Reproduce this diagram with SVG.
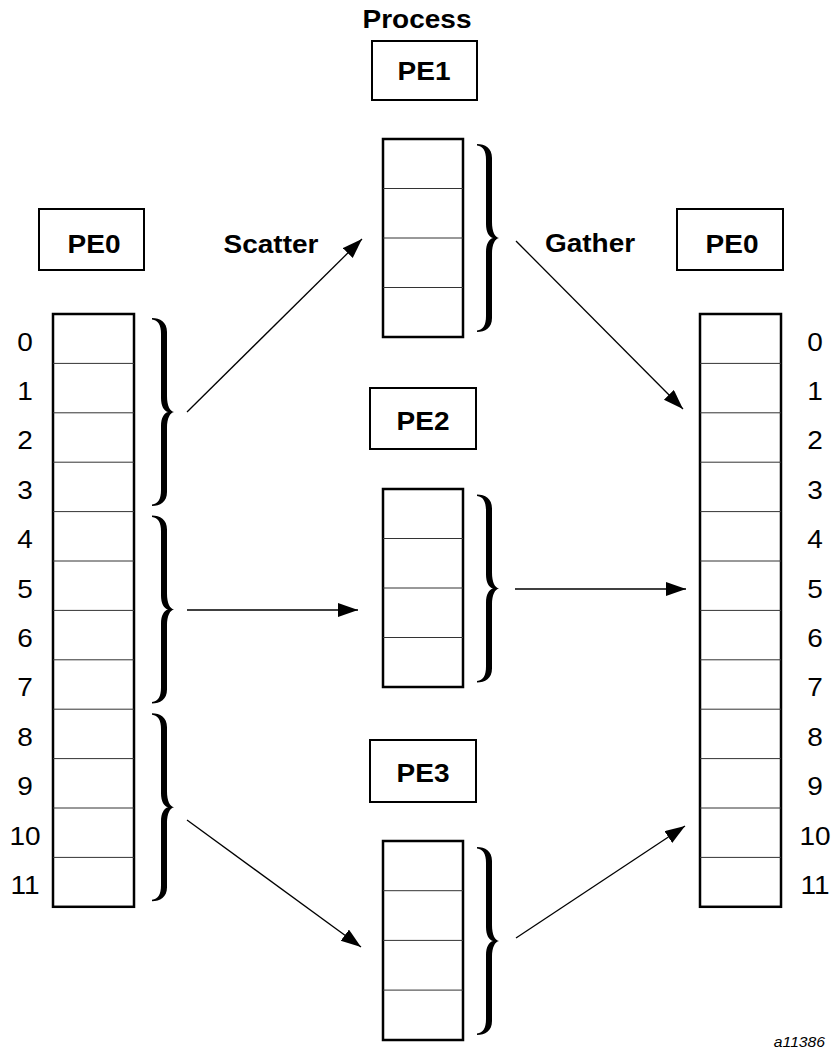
<svg xmlns="http://www.w3.org/2000/svg" width="838" height="1053" viewBox="0 0 838 1053">
<style>
.box{fill:#fff;stroke:#000;stroke-width:2}
.arr{fill:#fff;stroke:#000;stroke-width:2.5}
.row{stroke:#333;stroke-width:1}
.lbl{font-family:"Liberation Sans",Arial,sans-serif;font-size:25px;font-weight:bold;fill:#000;text-anchor:middle}
.num{font-family:"Liberation Sans",Arial,sans-serif;font-size:25px;fill:#000;text-anchor:middle}
.cap{font-family:"Liberation Sans",Arial,sans-serif;font-size:14px;font-style:italic;fill:#000;text-anchor:end}
.con{stroke:#000;stroke-width:1.3;fill:none}
</style>
<defs>
<path id="brace" d="M0,0 C8,0 15,4 15,14 L15,78 C15,88 18,93 22,94 C18,95 15,100 15,110 L15,174 C15,184 8,188 0,188 L0,186.5 C6,186 9,181 9,172 L9,108 C9,100 12,95 16,94 C12,93 9,88 9,80 L9,16 C9,7 6,2 0,1.5 Z" fill="#000"/>
<marker id="ah" markerUnits="userSpaceOnUse" markerWidth="22" markerHeight="16" refX="20" refY="7" orient="auto">
<path d="M0,0 L20,7 L0,14 Z" fill="#000"/>
</marker>
</defs>
<rect width="838" height="1053" fill="#fff"/>

<g id="title">
<text class="lbl" transform="translate(417,28) scale(1.12,1)">Process</text>
</g>

<g id="pe0-left">
<rect class="box" x="39" y="209" width="105" height="61"/>
<text class="lbl" transform="translate(94,253) scale(1.12,1)">PE0</text>
</g>

<g id="pe0-left-array">
<rect class="arr" x="53" y="314" width="81" height="592.8"/>
<g class="row">
<line x1="53" y1="363.4" x2="134" y2="363.4"/>
<line x1="53" y1="412.8" x2="134" y2="412.8"/>
<line x1="53" y1="462.2" x2="134" y2="462.2"/>
<line x1="53" y1="511.6" x2="134" y2="511.6"/>
<line x1="53" y1="561" x2="134" y2="561"/>
<line x1="53" y1="610.4" x2="134" y2="610.4"/>
<line x1="53" y1="659.8" x2="134" y2="659.8"/>
<line x1="53" y1="709.2" x2="134" y2="709.2"/>
<line x1="53" y1="758.6" x2="134" y2="758.6"/>
<line x1="53" y1="808" x2="134" y2="808"/>
<line x1="53" y1="857.4" x2="134" y2="857.4"/>
</g>
<text class="num" transform="translate(25,350.5) scale(1.12,1)">0</text>
<text class="num" transform="translate(25,399.9) scale(1.12,1)">1</text>
<text class="num" transform="translate(25,449.3) scale(1.12,1)">2</text>
<text class="num" transform="translate(25,498.7) scale(1.12,1)">3</text>
<text class="num" transform="translate(25,548.1) scale(1.12,1)">4</text>
<text class="num" transform="translate(25,597.5) scale(1.12,1)">5</text>
<text class="num" transform="translate(25,646.9) scale(1.12,1)">6</text>
<text class="num" transform="translate(25,696.3) scale(1.12,1)">7</text>
<text class="num" transform="translate(25,745.7) scale(1.12,1)">8</text>
<text class="num" transform="translate(25,795.1) scale(1.12,1)">9</text>
<text class="num" transform="translate(25,844.5) scale(1.12,1)">10</text>
<text class="num" transform="translate(25,893.9) scale(1.12,1)">11</text>
<use href="#brace" x="152" y="318"/>
<use href="#brace" x="152" y="515.6"/>
<use href="#brace" x="152" y="713.2"/>
</g>

<g id="scatter-label">
<text class="lbl" transform="translate(271,253) scale(1.12,1)">Scatter</text>
</g>
<g id="gather-label">
<text class="lbl" transform="translate(590,252) scale(1.12,1)">Gather</text>
</g>

<g id="pe1">
<rect class="box" x="372" y="41" width="105" height="59"/>
<text class="lbl" transform="translate(424,80) scale(1.12,1)">PE1</text>
<rect class="arr" x="383" y="139" width="80" height="198"/>
<g class="row">
<line x1="383" y1="188.5" x2="463" y2="188.5"/>
<line x1="383" y1="238" x2="463" y2="238"/>
<line x1="383" y1="287.5" x2="463" y2="287.5"/>
</g>
<use href="#brace" x="477" y="144"/>
</g>

<g id="pe2">
<rect class="box" x="370" y="388" width="106" height="61"/>
<text class="lbl" transform="translate(423,430) scale(1.12,1)">PE2</text>
<rect class="arr" x="383" y="489" width="80" height="198"/>
<g class="row">
<line x1="383" y1="538.5" x2="463" y2="538.5"/>
<line x1="383" y1="588" x2="463" y2="588"/>
<line x1="383" y1="637.5" x2="463" y2="637.5"/>
</g>
<use href="#brace" x="477" y="494.5"/>
</g>

<g id="pe3">
<rect class="box" x="370" y="740" width="106" height="62"/>
<text class="lbl" transform="translate(423,782) scale(1.12,1)">PE3</text>
<rect class="arr" x="383" y="841" width="80" height="199"/>
<g class="row">
<line x1="383" y1="890.7" x2="463" y2="890.7"/>
<line x1="383" y1="940.4" x2="463" y2="940.4"/>
<line x1="383" y1="990.1" x2="463" y2="990.1"/>
</g>
<use href="#brace" x="477" y="847"/>
</g>

<g id="pe0-right">
<rect class="box" x="677" y="209" width="106" height="61"/>
<text class="lbl" transform="translate(732,253) scale(1.12,1)">PE0</text>
</g>

<g id="pe0-right-array">
<rect class="arr" x="700" y="314" width="81" height="592.8"/>
<g class="row">
<line x1="700" y1="363.4" x2="781" y2="363.4"/>
<line x1="700" y1="412.8" x2="781" y2="412.8"/>
<line x1="700" y1="462.2" x2="781" y2="462.2"/>
<line x1="700" y1="511.6" x2="781" y2="511.6"/>
<line x1="700" y1="561" x2="781" y2="561"/>
<line x1="700" y1="610.4" x2="781" y2="610.4"/>
<line x1="700" y1="659.8" x2="781" y2="659.8"/>
<line x1="700" y1="709.2" x2="781" y2="709.2"/>
<line x1="700" y1="758.6" x2="781" y2="758.6"/>
<line x1="700" y1="808" x2="781" y2="808"/>
<line x1="700" y1="857.4" x2="781" y2="857.4"/>
</g>
<text class="num" transform="translate(815,350.5) scale(1.12,1)">0</text>
<text class="num" transform="translate(815,399.9) scale(1.12,1)">1</text>
<text class="num" transform="translate(815,449.3) scale(1.12,1)">2</text>
<text class="num" transform="translate(815,498.7) scale(1.12,1)">3</text>
<text class="num" transform="translate(815,548.1) scale(1.12,1)">4</text>
<text class="num" transform="translate(815,597.5) scale(1.12,1)">5</text>
<text class="num" transform="translate(815,646.9) scale(1.12,1)">6</text>
<text class="num" transform="translate(815,696.3) scale(1.12,1)">7</text>
<text class="num" transform="translate(815,745.7) scale(1.12,1)">8</text>
<text class="num" transform="translate(815,795.1) scale(1.12,1)">9</text>
<text class="num" transform="translate(815,844.5) scale(1.12,1)">10</text>
<text class="num" transform="translate(815,893.9) scale(1.12,1)">11</text>
</g>

<g id="connectors">
<line class="con" x1="187" y1="412" x2="362" y2="239" marker-end="url(#ah)"/>
<line class="con" x1="187" y1="610" x2="358" y2="610" marker-end="url(#ah)"/>
<line class="con" x1="187" y1="820" x2="361" y2="947" marker-end="url(#ah)"/>
<line class="con" x1="516" y1="241" x2="683" y2="409" marker-end="url(#ah)"/>
<line class="con" x1="515" y1="589" x2="686" y2="589" marker-end="url(#ah)"/>
<line class="con" x1="516" y1="938" x2="685" y2="826" marker-end="url(#ah)"/>
</g>

<g id="caption">
<text class="cap" transform="translate(825,1047) scale(1.12,1)">a11386</text>
</g>
</svg>
